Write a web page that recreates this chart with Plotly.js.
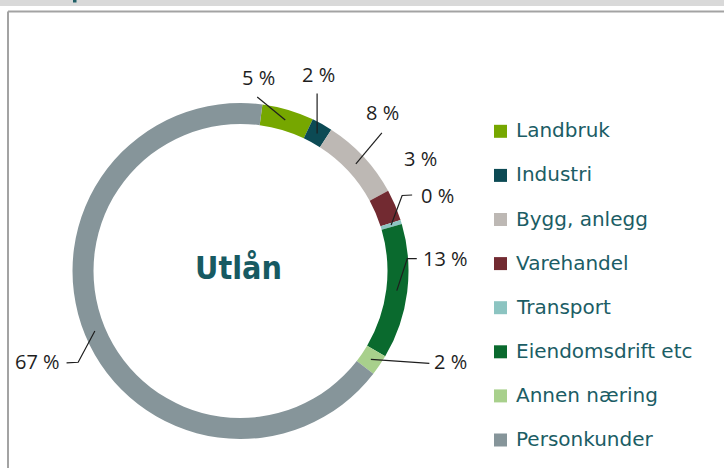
<!DOCTYPE html>
<html>
<head>
<meta charset="utf-8">
<script src="https://cdn.plot.ly/plotly-3.0.1.min.js"></script>
<style>html,body{margin:0;padding:0;background:#fff;}#chart{width:724px;height:468px;}</style>
</head>
<body>
<div id="chart"></div>
<script>
// ---- data ----
const categories = ["Landbruk", "Industri", "Bygg, anlegg", "Varehandel", "Transport", "Eiendomsdrift etc", "Annen næring", "Personkunder"];
const shares = [5.0, 2.0, 8.0, 3.0, 0.4, 13.0, 2.0, 66.6];
const sliceColors = ["#76a700", "#0c4a54", "#bdb8b4", "#722a31", "#8cc4c1", "#0a6a2e", "#a8d08c", "#86959a"];
const centerTitle = "Utlån";

// ---- layout config (pixels) ----
const W = 724, H = 468;
const cx = 240.5, cy = 271, R = 168, hole = 0.875, rotation = 7.5;
const rMid = R * (1 + hole) / 2;
// label placement relative to each slice's ring anchor
const labelCfg = [
  {t: [-27, -42], l: [[-28, -23]]},
  {t: [1, -59],   l: [[0, -40]]},
  {t: [27, -51],  l: [[26, -31]]},
  {t: [35, -51],  l: []},
  {t: [46, -30],  l: [[11, -29.5], [21, -30]]},
  {t: [49, -32],  l: [[10.5, -32], [20, -32]]},
  {t: [80, 2],    l: [[58.5, 4]]},
  {t: [-57, 31],  l: [[-16.7, 31.3], [-28.3, 32]]}
];

const total = shares.reduce((a, b) => a + b, 0);
const shapes = [];
const annotations = [];

// frame
shapes.push({type: 'rect', xref: 'x', yref: 'y', x0: 0, x1: W, y0: 0, y1: 6, line: {width: 0}, fillcolor: '#d9d9d9', layer: 'below'});
shapes.push({type: 'rect', xref: 'x', yref: 'y', x0: 73, x1: 76.5, y0: 0, y1: 2.5, line: {width: 0}, fillcolor: '#1f5f66', layer: 'below'});
shapes.push({type: 'line', xref: 'x', yref: 'y', x0: 8, x1: W, y0: 11.5, y1: 11.5, line: {color: '#a3a3a3', width: 2}});
shapes.push({type: 'line', xref: 'x', yref: 'y', x0: 8, x1: 8, y0: 11.5, y1: H, line: {color: '#a3a3a3', width: 2}});

// labels and leader lines
let cum = 0;
shares.forEach((v, i) => {
  const ang = (rotation + 360 * (cum + v / 2) / total) * Math.PI / 180;
  cum += v;
  const ax = cx + rMid * Math.sin(ang);
  const ay = cy - rMid * Math.cos(ang);
  const cfg = labelCfg[i];
  annotations.push({
    xref: 'x', yref: 'y', x: ax + cfg.t[0], y: ay + cfg.t[1],
    text: Math.round(v / total * 100) + ' %', showarrow: false,
    xanchor: 'center', yanchor: 'middle',
    font: {family: 'Open Sans, sans-serif', size: 20, color: '#1e1e1e'}
  });
  if (cfg.l.length) {
    let p = 'M' + ax + ',' + ay;
    cfg.l.forEach(pt => { p += ' L' + (ax + pt[0]) + ',' + (ay + pt[1]); });
    shapes.push({type: 'path', xref: 'x', yref: 'y', path: p, line: {color: '#1e1e1e', width: 1.2}});
  }
});

// center title
annotations.push({xref: 'x', yref: 'y', x: cx - 2, y: cy - 3, text: '<b>' + centerTitle + '</b>', showarrow: false,
  xanchor: 'center', yanchor: 'middle',
  font: {family: 'DejaVu Sans Condensed, DejaVu Sans, sans-serif', size: 32, color: '#175a62'}});

// legend (manual)
const legX = 494, legY0 = 131.3, legStep = 44.1, sq = 13;
categories.forEach((c, i) => {
  const y = legY0 + legStep * i;
  shapes.push({type: 'rect', xref: 'x', yref: 'y', x0: legX, x1: legX + sq, y0: y - sq / 2, y1: y + sq / 2,
    line: {width: 0}, fillcolor: sliceColors[i]});
  annotations.push({xref: 'x', yref: 'y', x: legX + 20, y: y - 1, text: c, showarrow: false,
    xanchor: 'left', yanchor: 'middle',
    font: {family: 'DejaVu Sans, sans-serif', size: 20, color: '#1b5d65'}});
});

const data = [{
  type: 'pie',
  labels: categories,
  values: shares,
  marker: {colors: sliceColors, line: {width: 0}},
  hole: hole,
  sort: false,
  direction: 'clockwise',
  rotation: rotation,
  textinfo: 'none',
  hoverinfo: 'label+percent',
  showlegend: false,
  domain: {x: [(cx - R) / W, (cx + R) / W], y: [1 - (cy + R) / H, 1 - (cy - R) / H]}
}];

const layout = {
  width: W, height: H,
  margin: {l: 0, r: 0, t: 0, b: 0},
  paper_bgcolor: '#ffffff', plot_bgcolor: 'rgba(0,0,0,0)',
  showlegend: false,
  xaxis: {range: [0, W], visible: false, fixedrange: true},
  yaxis: {range: [H, 0], visible: false, fixedrange: true},
  shapes: shapes,
  annotations: annotations
};

Plotly.newPlot('chart', data, layout, {displayModeBar: false, staticPlot: true});
</script>
</body>
</html>
